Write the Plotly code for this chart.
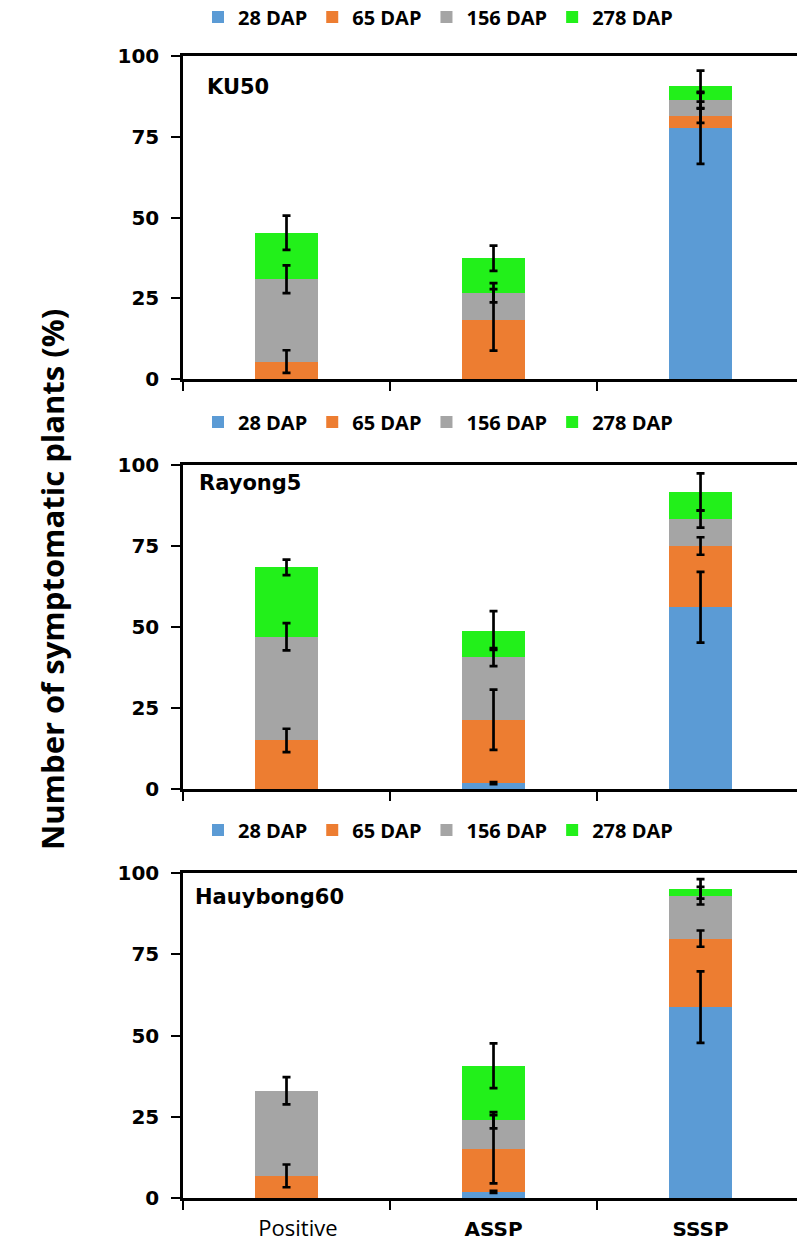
import plotly.graph_objects as go

categories = ["Positive", "ASSP", "SSSP"]
tick_text = [
    "&nbsp;&nbsp;&nbsp;&nbsp;Positive",
    '<span style="font-family:DejaVu Sans;font-weight:bold;font-size:20px">ASSP</span>',
    '<span style="font-family:DejaVu Sans;font-weight:bold;font-size:20px">SSSP</span>',
]
series_names = ["28 DAP", "65 DAP", "156 DAP", "278 DAP"]
colors = ["#5B9BD5", "#ED7D31", "#A5A5A5", "#22F01A"]
panel_names = ["KU50", "Rayong5", "Hauybong60"]

# KU50
ku50_28 = [0, 0, 77.6]
ku50_65 = [5.4, 18.3, 3.9]
ku50_156 = [25.5, 8.4, 4.9]
ku50_278 = [14.4, 10.7, 4.3]
ku50_28_err = [None, None, 11.0]
ku50_65_err = [3.5, 9.5, 2.2]
ku50_156_err = [4.3, 3.0, 2.5]
ku50_278_err = [5.3, 3.9, 4.8]

# Rayong5
ray_28 = [0, 1.8, 56.1]
ray_65 = [15.0, 19.6, 18.9]
ray_156 = [32.0, 19.3, 8.3]
ray_278 = [21.4, 8.2, 8.4]
ray_28_err = [None, 0.3, 10.9]
ray_65_err = [3.6, 9.3, 2.7]
ray_156_err = [4.2, 2.8, 2.6]
ray_278_err = [2.4, 6.0, 5.7]

# Hauybong60
hau_28 = [0, 1.9, 58.7]
hau_65 = [6.8, 13.1, 21.1]
hau_156 = [26.2, 8.9, 13.2]
hau_278 = [0, 16.8, 2.1]
hau_28_err = [None, 0.3, 11.0]
hau_65_err = [3.5, 10.5, 2.5]
hau_156_err = [4.2, 2.5, 2.7]
hau_278_err = [None, 6.9, 3.0]

panels = [
    ([ku50_28, ku50_65, ku50_156, ku50_278], [ku50_28_err, ku50_65_err, ku50_156_err, ku50_278_err]),
    ([ray_28, ray_65, ray_156, ray_278], [ray_28_err, ray_65_err, ray_156_err, ray_278_err]),
    ([hau_28, hau_65, hau_156, hau_278], [hau_28_err, hau_65_err, hau_156_err, hau_278_err]),
]

W, H = 797, 1242
def py(p):
    return 1 - p / H

domains = [(379, 56), (789, 465), (1198, 873)]
legend_y = [17, 422, 830]
label_pos = [(205, 87), (197, 483), (193, 897)]

fig = go.Figure()
legend_ids = ["legend", "legend2", "legend3"]

for pi, (vals, errs) in enumerate(panels):
    xa = "x" if pi == 0 else f"x{pi+1}"
    ya = "y" if pi == 0 else f"y{pi+1}"
    for si in range(4):
        fig.add_trace(go.Bar(
            x=categories, y=vals[si], name=series_names[si],
            marker=dict(color=colors[si], line=dict(width=0)),
            xaxis=xa, yaxis=ya, legend=legend_ids[pi], showlegend=True,
            hoverinfo="skip",
        ))
    cum = [0, 0, 0]
    for si in range(4):
        cum = [c + v for c, v in zip(cum, vals[si])]
        ys = [c if e is not None else None for c, e in zip(cum, errs[si])]
        es = [e if e is not None else 0 for e in errs[si]]
        fig.add_trace(go.Scatter(
            x=categories, y=ys, mode="markers",
            marker=dict(size=1, color="rgba(0,0,0,0)"),
            error_y=dict(type="data", array=es, symmetric=True,
                         color="black", thickness=2.7, width=4),
            xaxis=xa, yaxis=ya, showlegend=False, hoverinfo="skip",
        ))

layout = dict(
    width=W, height=H, margin=dict(l=0, r=0, t=0, b=0, autoexpand=False),
    paper_bgcolor="white", plot_bgcolor="white",
    barmode="stack", bargap=0.695,
    font=dict(family="Open Sans", color="black"),
)

for pi in range(3):
    sfx = "" if pi == 0 else str(pi + 1)
    bot, top = domains[pi]
    layout["xaxis" + sfx] = dict(
        domain=[183 / W, 1], anchor="y" + sfx,
        type="category", categoryorder="array", categoryarray=categories,
        range=[-0.5, 2.466],
        tickmode="array", tickvals=categories,
        ticktext=tick_text if pi == 2 else ["", "", ""],
        tickson="boundaries", ticks="outside", ticklen=9, tickwidth=2,
        tickcolor="black",
        showline=True, linecolor="black", linewidth=2.5, mirror=True,
        showgrid=False, zeroline=False,
        tickfont=dict(family="Open Sans", size=22, color="black"),
        ticklabelstandoff=9,
    )
    layout["yaxis" + sfx] = dict(
        domain=[py(bot), py(top)], anchor="x" + sfx,
        range=[0, 100], tickvals=[0, 25, 50, 75, 100],
        ticks="outside", ticklen=9, tickwidth=2, tickcolor="black",
        showline=True, linecolor="black", linewidth=2.5,
        showgrid=False, zeroline=False,
        tickfont=dict(family="DejaVu Sans", size=20, color="black", weight="bold"),
        ticklabelstandoff=8,
    )
    layout[legend_ids[pi]] = dict(
        orientation="h", x=198 / W, xanchor="left",
        y=py(legend_y[pi]), yanchor="middle",
        font=dict(family="Open Sans", size=20, color="black", weight="bold"),
        itemwidth=30, bgcolor="rgba(0,0,0,0)",
        traceorder="normal",
    )

annotations = []
for pi in range(3):
    lx, ly = label_pos[pi]
    annotations.append(dict(
        x=lx / W, y=py(ly), xref="paper", yref="paper",
        xanchor="left", yanchor="middle", showarrow=False,
        text=panel_names[pi],
        font=dict(family="DejaVu Sans", size=21, color="black", weight="bold"),
    ))
annotations.append(dict(
    x=52 / W, y=py(580), xref="paper", yref="paper",
    xanchor="center", yanchor="middle", showarrow=False, textangle=-90,
    text="Number of symptomatic plants (%)",
    font=dict(family="Open Sans", size=31, color="black", weight="bold"),
))
layout["annotations"] = annotations

fig.update_layout(**layout)
fig.write_html("out.html")
